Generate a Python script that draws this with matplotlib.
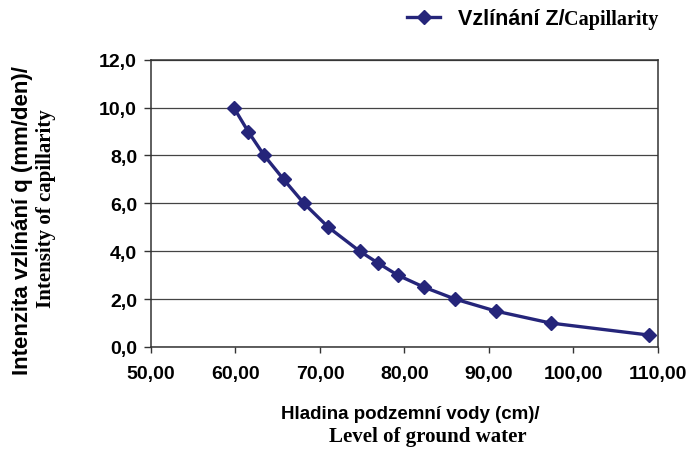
import numpy as np
import matplotlib.pyplot as plt
from matplotlib.ticker import FuncFormatter

# data
level = [59.8, 61.5, 63.4, 65.7, 68.1, 71.0, 74.7, 76.9, 79.2, 82.3, 86.0, 90.8, 97.3, 108.9]
capil = [10.0, 9.0, 8.0, 7.0, 6.0, 5.0, 4.0, 3.5, 3.0, 2.5, 2.0, 1.5, 1.0, 0.5]
xticks = [50, 60, 70, 80, 90, 100, 110]
yticks = [0, 2, 4, 6, 8, 10, 12]

navy = '#25257a'
sans = 'Liberation Sans'
serif = 'Liberation Serif'

fig = plt.figure(figsize=(6.9, 4.52), dpi=100)
ax = fig.add_axes([0.2188, 0.2301, 0.7348, 0.6356])

ax.plot(level, capil, color=navy, lw=2.4, marker='D', ms=7,
        mec=navy, mfc=navy, label='Vzlínání Z/')

ax.set_xlim(50, 110)
ax.set_ylim(0, 12)
ax.set_xticks(xticks)
ax.set_yticks(yticks)
ax.xaxis.set_major_formatter(FuncFormatter(lambda v, p: ('%.2f' % v).replace('.', ',')))
ax.yaxis.set_major_formatter(FuncFormatter(lambda v, p: ('%.1f' % v).replace('.', ',')))
for lab in ax.get_xticklabels() + ax.get_yticklabels():
    lab.set_family(sans)
    lab.set_weight('bold')
    lab.set_fontsize(14)
ax.tick_params(axis='both', direction='out', width=1, color='#333333')
ax.tick_params(axis='x', length=4, pad=9)
ax.tick_params(axis='y', length=5, pad=5)
ax.grid(axis='y', color='#444444', lw=0.9)
ax.set_axisbelow(True)
for s in ax.spines.values():
    s.set_color('#333333')
    s.set_linewidth(1.1)

# axis titles: czech part in sans, english part in serif
fig.text(0.032, 0.513, 'Intenzita vzlínání q (mm/den)/', rotation=90, ha='center', va='center',
         family=sans, weight='bold', fontsize=16)
fig.text(0.066, 0.538, 'Intensity of capillarity', rotation=90, ha='center', va='center',
         family=serif, weight='bold', fontsize=15)
fig.text(0.594, 0.082, 'Hladina podzemní vody (cm)/', ha='center', va='center',
         family=sans, weight='bold', fontsize=13.5)
fig.text(0.620, 0.033, 'Level of ground water', ha='center', va='center',
         family=serif, weight='bold', fontsize=15)

leg = ax.legend(loc='center left', frameon=False, handlelength=1.55, handletextpad=0.8,
                borderpad=0, borderaxespad=0,
                prop={'family': sans, 'weight': 'bold', 'size': 15.5})
leg.set_bbox_to_anchor((0.590, 0.956), transform=fig.transFigure)
fig.canvas.draw()
bb = leg.get_texts()[0].get_window_extent().transformed(fig.transFigure.inverted())
fig.text(bb.x1, bb.y0, 'Capillarity', ha='left', va='bottom',
         family=serif, weight='bold', fontsize=14.5)

fig.savefig('out.png', dpi=100)
